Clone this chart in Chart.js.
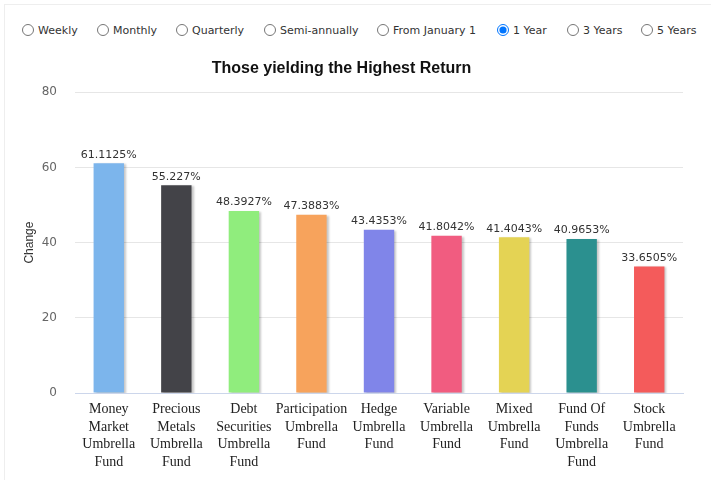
<!DOCTYPE html>
<html>
<head>
<meta charset="utf-8">
<script src="https://cdn.jsdelivr.net/npm/chart.js@4.4.0/dist/chart.umd.min.js"></script>
<style>
    html, body {
        margin: 0;
        padding: 0;
        background: #ffffff;
        width: 711px;
        height: 480px;
        overflow: hidden;
    }

    .panel {
        position: absolute;
        left: 4px;
        top: 4px;
        width: 720px;
        height: 490px;
        border-top: 1px solid #eeeeee;
        border-left: 1px solid #eeeeee;
    }

    .period {
        position: absolute;
        top: 22px;
        height: 16px;
        display: flex;
        align-items: center;
        font-family: "DejaVu Sans", sans-serif;
        font-size: 11px;
        color: #333333;
        white-space: nowrap;
    }

    .period input {
        margin: 0 4px 0 0;
        width: 12px;
        height: 12px;
    }

    .chart-box {
        position: absolute;
        left: 0;
        top: 45px;
        width: 711px;
        height: 435px;
    }
</style>
</head>
<body>
<div class="panel"></div>

<label class="period" style="left:22px"><input type="radio" name="period">Weekly</label>
<label class="period" style="left:97px"><input type="radio" name="period">Monthly</label>
<label class="period" style="left:176px"><input type="radio" name="period">Quarterly</label>
<label class="period" style="left:264px"><input type="radio" name="period">Semi-annually</label>
<label class="period" style="left:377px"><input type="radio" name="period">From January 1</label>
<label class="period" style="left:497px"><input type="radio" name="period" checked>1 Year</label>
<label class="period" style="left:567px"><input type="radio" name="period">3 Years</label>
<label class="period" style="left:641px"><input type="radio" name="period">5 Years</label>

<div class="chart-box">
    <canvas id="bar_chart_return"></canvas>
</div>

<script>
const FUND_LABELS = [
    ["Money", "Market", "Umbrella", "Fund"],
    ["Precious", "Metals", "Umbrella", "Fund"],
    ["Debt", "Securities", "Umbrella", "Fund"],
    ["Participation", "Umbrella", "Fund"],
    ["Hedge", "Umbrella", "Fund"],
    ["Variable", "Umbrella", "Fund"],
    ["Mixed", "Umbrella", "Fund"],
    ["Fund Of", "Funds", "Umbrella", "Fund"],
    ["Stock", "Umbrella", "Fund"]
];

const RETURN_VALUES = [61.1125, 55.227, 48.3927, 47.3883, 43.4353, 41.8042, 41.4043, 40.9653, 33.6505];

const BAR_COLORS = ["#7cb5ec", "#434348", "#90ed7d", "#f7a35c", "#8085e9", "#f15c80", "#e4d354", "#2b908f", "#f45b5b"];

const Y_TICKS = [0, 20, 40, 60, 80];

// soft shadow on the right side of each bar
const barShadow = {
    id: "barShadow",
    beforeDatasetsDraw(chart) {
        const ctx = chart.ctx;
        ctx.save();
        ctx.shadowColor = "rgba(0, 0, 0, 0.22)";
        ctx.shadowOffsetX = 2;
        ctx.shadowOffsetY = 1;
        ctx.shadowBlur = 2;
    },
    afterDatasetsDraw(chart) {
        chart.ctx.restore();
    }
};

// value labels above the bars
const valueLabels = {
    id: "valueLabels",
    afterDatasetsDraw(chart) {
        const ctx = chart.ctx;
        const meta = chart.getDatasetMeta(0);
        const values = chart.data.datasets[0].data;

        ctx.save();
        ctx.font = "11px 'DejaVu Sans'";
        ctx.fillStyle = "#333333";
        ctx.textAlign = "center";
        ctx.textBaseline = "bottom";

        meta.data.forEach((bar, i) => {
            ctx.fillText(values[i] + "%", bar.x, bar.y - 3);
        });

        ctx.restore();
    }
};

new Chart(document.getElementById("bar_chart_return"), {
    type: "bar",

    data: {
        labels: FUND_LABELS,
        datasets: [
            {
                label: "Change",
                data: RETURN_VALUES,
                backgroundColor: BAR_COLORS,
                borderWidth: 0,
                categoryPercentage: 1,
                barPercentage: 0.45
            }
        ]
    },

    options: {
        responsive: true,
        maintainAspectRatio: false,
        animation: false,

        layout: {
            padding: {
                top: 0,
                right: 28,
                left: 0,
                bottom: 0
            }
        },

        scales: {
            x: {
                afterFit(scale) {
                    scale.height = 87;
                },

                grid: {
                    display: false,
                    drawTicks: false
                },

                border: {
                    color: "#ccd6eb"
                },

                ticks: {
                    autoSkip: false,
                    maxRotation: 0,
                    padding: 8,
                    color: "#222222",
                    font: {
                        family: "Liberation Serif",
                        size: 14,
                        lineHeight: 1.25
                    }
                }
            },

            y: {
                min: 0,
                max: 80,

                afterFit(scale) {
                    scale.width = 75;
                },

                afterBuildTicks(scale) {
                    scale.ticks = Y_TICKS.map(v => ({ value: v }));
                },

                title: {
                    display: true,
                    text: "Change",
                    color: "#333333",
                    padding: {
                        top: 22,
                        bottom: 0
                    },
                    font: {
                        family: "Liberation Sans",
                        size: 12
                    }
                },

                grid: {
                    color: "#e6e6e6",
                    drawTicks: false
                },

                border: {
                    display: false
                },

                ticks: {
                    padding: 18,
                    color: "#666666",
                    font: {
                        family: "DejaVu Sans",
                        size: 12
                    }
                }
            }
        },

        plugins: {
            legend: {
                display: false
            },

            tooltip: {
                enabled: false
            },

            title: {
                display: true,
                text: "Those yielding the Highest Return",
                color: "#111111",
                padding: {
                    top: 14,
                    bottom: 14
                },
                font: {
                    family: "Liberation Sans",
                    size: 16,
                    weight: "bold",
                    lineHeight: 1.2
                }
            }
        }
    },

    plugins: [barShadow, valueLabels]
});
</script>
</body>
</html>
